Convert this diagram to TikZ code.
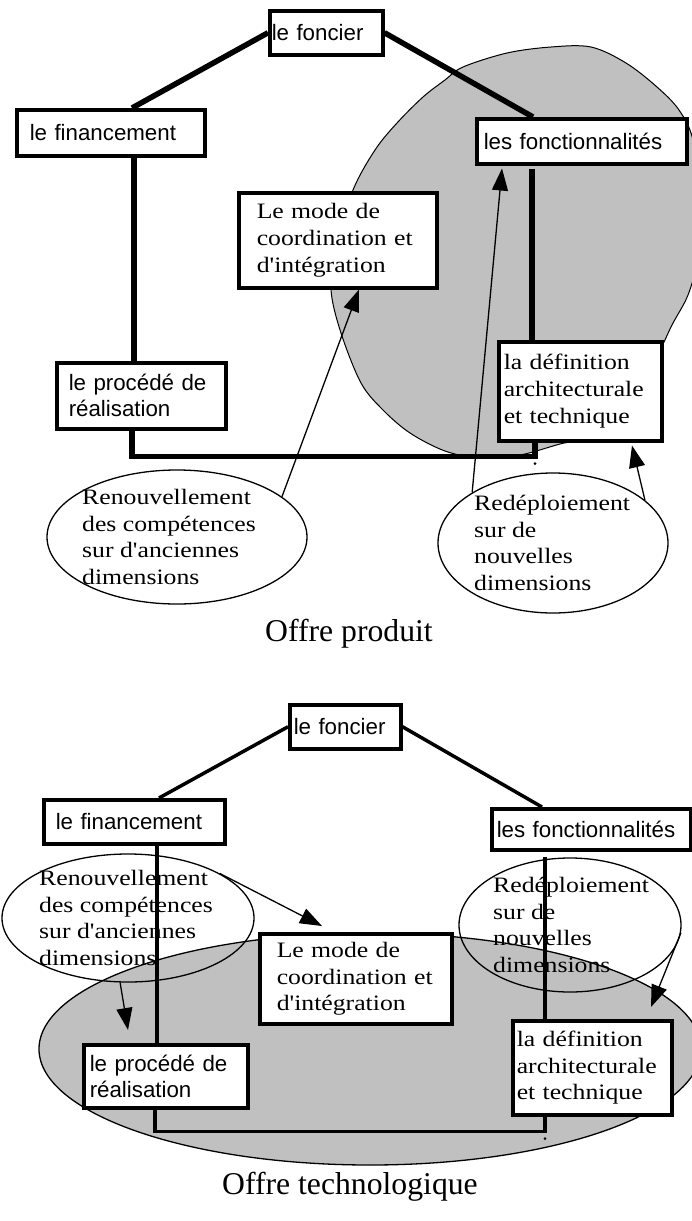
\documentclass[tikz,border=0pt]{standalone}
\usepackage{fontspec}
\setmainfont{Liberation Serif}
\newfontfamily\sansf{Liberation Sans}
\newfontfamily\seriff[FakeStretch=1.17]{Liberation Serif}
\usetikzlibrary{shapes.geometric,arrows.meta}
\definecolor{zonegray}{RGB}{192,192,192}

\begin{document}
\begin{tikzpicture}[x=1pt,y=-1pt,
  box/.style={draw, fill=white, line width=3.5pt, anchor=north west, inner ysep=0pt, align=left},
  sbox/.style={box, font=\sansf\fontsize{22.3}{26}\selectfont},
  tbox/.style={box, font=\seriff\fontsize{22}{26.7}\selectfont},
  oval/.style={draw, ellipse, line width=1.3pt, inner sep=0pt},
  ovaltext/.style={anchor=west, inner sep=0pt, align=left, font=\seriff\fontsize{22}{26.5}\selectfont},
  heavy/.style={line width=5.5pt},
  link/.style={line width=3.5pt},
  pointer/.style={line width=1.3pt, -{Triangle[length=22pt,width=16pt]}},
  caption/.style={font=\fontsize{31.7}{36}\selectfont}
]
\useasboundingbox (0,0) rectangle (691,1221);

% ---------- Offre produit ----------
% shaded zone of the new dimensions
\filldraw[fill=zonegray, draw=black, line width=1pt]
  plot[smooth cycle, tension=0.55] coordinates {
    (445,80) (463,67) (507,53) (551,47) (591,47) (626,63) (657,87) (679,110)
    (693,140) (700,200) (697,260) (688,295) (672,325) (655,360) (620,420)
    (585,438) (560,444) (520,455) (480,458) (445,451) (410,433) (383,410)
    (361,383) (341,333) (331,290) (335,247) (353,190) (375,150) (397,123) (423,97)};

\node[sbox, minimum width=113pt, minimum height=44pt, inner xsep=2pt, text width=109pt] (fon1) at (268,9) {le foncier};
\node[sbox, minimum width=188pt, minimum height=46pt, inner xsep=13pt, text width=162pt] (fin1) at (15,108) {le financement};
\node[sbox, minimum width=210pt, minimum height=45pt, inner xsep=7pt, text width=196pt] (fct1) at (475,117) {les fonctionnalités};
\node[tbox, minimum width=198pt, minimum height=95pt, inner xsep=18pt, text width=162pt] (mode1) at (237,191) {Le mode de\\coordination et\\d'intégration};
\node[sbox, minimum width=169pt, minimum height=66pt, inner xsep=12pt, text width=145pt] (proc1) at (55,361) {le procédé de\\réalisation};
\node[tbox, minimum width=163pt, minimum height=99pt, inner xsep=5pt, text width=153pt] (def1) at (497,340) {la définition\\architecturale\\et technique};

\node[oval, minimum width=260pt, minimum height=134pt] (ell1) at (177,537) {};
\node[ovaltext] (ell1t) at ([xshift=-95pt]ell1.center) {Renouvellement\\des compétences\\sur d'anciennes\\dimensions};
\node[oval, minimum width=230pt, minimum height=140pt] (ell2) at (553,543) {};
\node[ovaltext] (ell2t) at ([xshift=-79pt]ell2.center) {Redéploiement\\sur de\\nouvelles\\dimensions};

\node[caption] (cap1) at (349,634) {Offre produit};

\draw[heavy] (fon1.west) -- ([xshift=117pt]fin1.north west);
\draw[heavy] (fon1.east) -- ([xshift=58pt]fct1.north west);
\draw[heavy] ([xshift=119pt]fin1.south west) -- ([xshift=79pt]proc1.north west);
\draw[heavy] ([xshift=57pt,yshift=-3pt]fct1.south west) -- ([xshift=35pt]def1.north west);
\draw[heavy] ([xshift=77pt]proc1.south west) -- ++(0,26) -| ([xshift=38pt]def1.south west);
\fill ([xshift=38pt,yshift=-21pt]def1.south west) circle (1.5pt);

\draw[pointer] (ell1.21) -- ([xshift=122pt]mode1.south west);
\draw[pointer] (ell2.148) -- ([xshift=27pt,yshift=-3pt]fct1.south west);
\draw[pointer] (ell2.25) -- ([xshift=135pt,yshift=-3pt]def1.south west);

% ---------- Offre technologique ----------
\filldraw[fill=zonegray, draw=black, line width=1.3pt] (370,1049) ellipse [x radius=331pt, y radius=116pt];

\node[sbox, minimum width=111pt, minimum height=44pt, inner xsep=4pt, text width=103pt] (fon2) at (288,703) {le foncier};
\node[sbox, minimum width=181pt, minimum height=44pt, inner xsep=12pt, text width=157pt] (fin2) at (42,798) {le financement};
\node[sbox, minimum width=199pt, minimum height=41pt, inner xsep=5pt, text width=189pt] (fct2) at (490,807) {les fonctionnalités};
\node[tbox, minimum width=192pt, minimum height=90pt, inner xsep=17pt, text width=158pt] (mode2) at (258,932) {Le mode de\\coordination et\\d'intégration};
\node[sbox, minimum width=164pt, minimum height=63pt, inner xsep=6pt, text width=152pt] (proc2) at (82,1043) {le procédé de\\réalisation};
\node[tbox, minimum width=159pt, minimum height=94pt, inner xsep=4pt, text width=151pt] (def2) at (511,1019) {la définition\\architecturale\\et technique};

\node[oval, minimum width=252pt, minimum height=128pt] (ell3) at (128,918) {};
\node[ovaltext] (ell3t) at ([xshift=-89pt]ell3.center) {Renouvellement\\des compétences\\sur d'anciennes\\dimensions};
\node[oval, minimum width=222pt, minimum height=134pt] (ell4) at (570,925) {};
\node[ovaltext] (ell4t) at ([xshift=-77pt]ell4.center) {Redéploiement\\sur de\\nouvelles\\dimensions};

\node[caption] (cap2) at (350,1187) {Offre technologique};

\draw[link] (fon2.west) -- ([xshift=117pt]fin2.north west);
\draw[link] (fon2.east) -- ([xshift=52pt]fct2.north west);
\draw[link] ([xshift=115pt]fin2.south west) -- ([xshift=75pt]proc2.north west);
\draw[link] ([xshift=55pt,yshift=-5pt]fct2.south west) -- ([xshift=34pt]def2.north west);
\draw[link] ([xshift=73pt]proc2.south west) -- ++(0,22) -| ([xshift=34pt]def2.south west);
\fill ([xshift=34pt,yshift=-22pt]def2.south west) circle (1.5pt);

\draw[pointer] (ell3.26) -- ([xshift=64pt,yshift=6pt]mode2.north west);
\draw[pointer] (ell3.-97) -- ([xshift=46pt,yshift=13pt]proc2.north west);
\draw[pointer] (ell4.-4) -- ([xshift=140pt,yshift=12pt]def2.north west);
\end{tikzpicture}
\end{document}
